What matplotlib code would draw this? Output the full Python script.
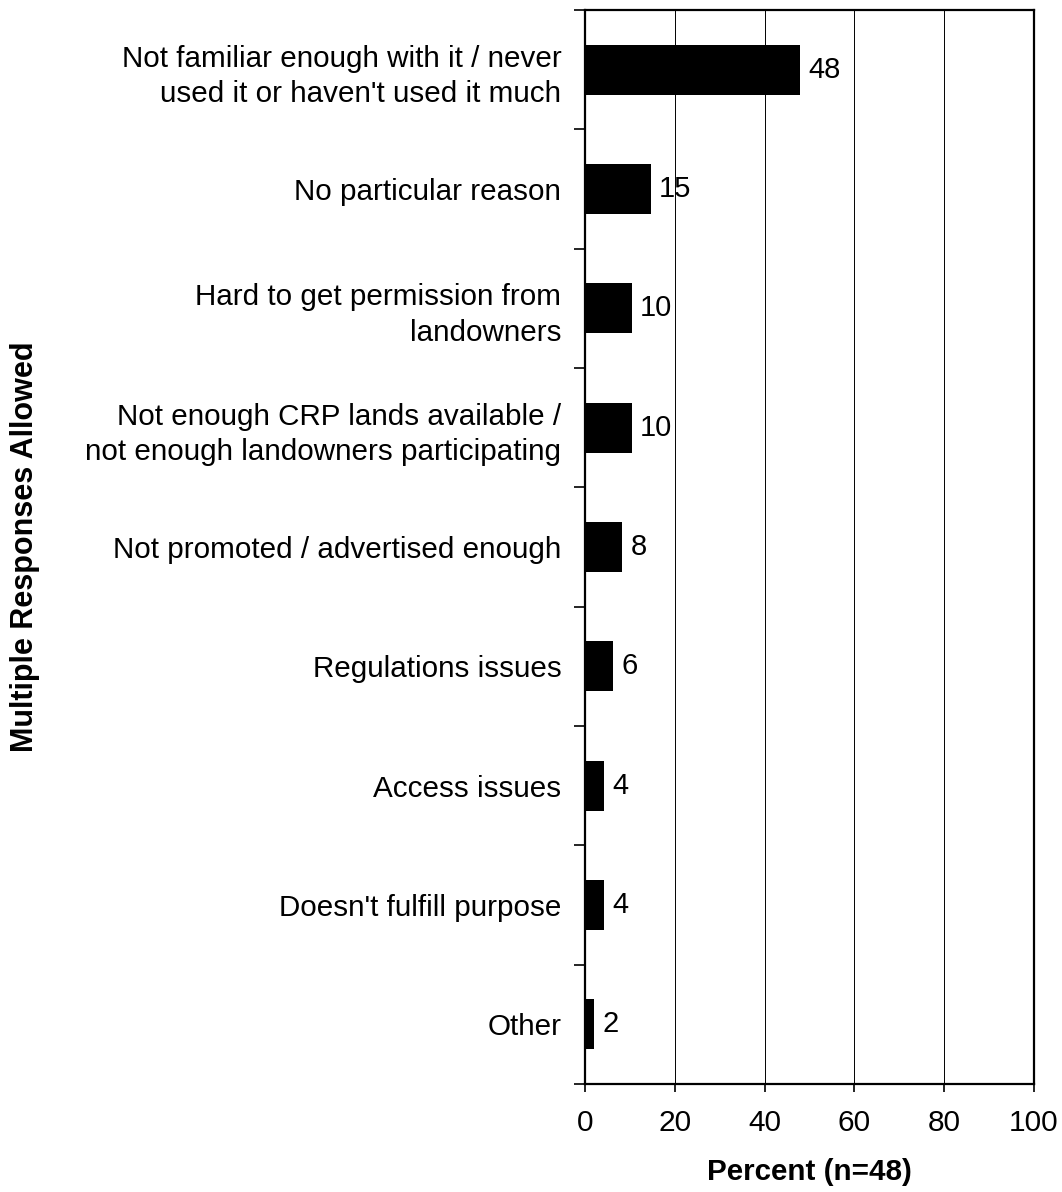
import matplotlib.pyplot as plt
import numpy as np

plt.rcParams['font.family'] = ['Liberation Sans', 'DejaVu Sans']

categories = [
    "Not familiar enough with it / never\nused it or haven't used it much",
    "No particular reason",
    "Hard to get permission from\nlandowners",
    "Not enough CRP lands available /\nnot enough landowners participating",
    "Not promoted / advertised enough",
    "Regulations issues",
    "Access issues",
    "Doesn't fulfill purpose",
    "Other",
]
values = [47.9, 14.6, 10.4, 10.4, 8.3, 6.3, 4.2, 4.2, 2.1]
shown = [48, 15, 10, 10, 8, 6, 4, 4, 2]
xticks = [0, 20, 40, 60, 80, 100]

fig = plt.figure(figsize=(10.62, 11.92), dpi=100)
ax = fig.add_axes((0.5508, 0.0906, 0.4228, 0.901))

y = np.arange(len(categories))
ax.barh(y, values, height=0.42, color='black', zorder=3)
for yi, v, s in zip(y, values, shown):
    ax.text(v + 1.8, yi, str(s), va='center', ha='left', fontsize=21, zorder=4)

ax.set_xlim(0, 100)
ax.set_ylim(len(categories) - 0.5, -0.5)
ax.set_xticks(xticks)
ax.set_xticklabels([str(t) for t in xticks], fontsize=21.5)
ax.tick_params(axis='x', length=6, width=1.2, pad=12)

ax.set_yticks(y)
ax.set_yticklabels(categories, fontsize=21.3, linespacing=1.35)
ax.tick_params(axis='y', which='major', length=0, pad=17)
ax.set_yticks(np.arange(-0.5, len(categories), 1.0), minor=True)
ax.tick_params(axis='y', which='minor', length=8, width=1.2)

for t in xticks[1:-1]:
    ax.axvline(t, color='black', linewidth=0.7, zorder=1)

for sp in ax.spines.values():
    sp.set_linewidth(1.6)

ax.set_xlabel("Percent (n=48)", fontsize=21.3, fontweight='bold', labelpad=15)
fig.text(0.024, 0.541, "Multiple Responses Allowed", rotation=90, va='center', ha='center',
         fontsize=22, fontweight='bold')

fig.savefig("out.png", dpi=100)
